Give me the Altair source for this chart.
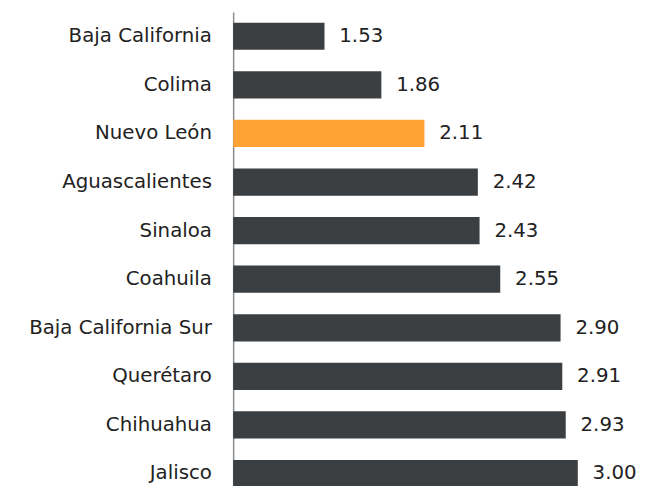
import altair as alt
import pandas as pd

states = ["Baja California", "Colima", "Nuevo León", "Aguascalientes", "Sinaloa",
          "Coahuila", "Baja California Sur", "Querétaro", "Chihuahua", "Jalisco"]
values = [1.53, 1.86, 2.11, 2.42, 2.43, 2.55, 2.90, 2.91, 2.93, 3.00]
highlight = "Nuevo León"

df = pd.DataFrame({"state": states, "value": values})
df["color"] = ["#FFA334" if s == highlight else "#3C3F42" for s in states]
df["label"] = [f"{v:.2f}" for v in values]

FONT = "DejaVu Sans"
FS = 20
W, H = 413, 477

y = alt.Y("state:N", sort=states,
          scale=alt.Scale(range=[0, 492], paddingInner=0.44, paddingOuter=0.22),
          axis=alt.Axis(title=None, ticks=False, labelPadding=22, labelFontSize=FS,
                        labelFont=FONT, labelColor="#222222", labelLimit=400,
                        domainColor="#8C8C8C", domainWidth=1.5, grid=False))
x = alt.X("value:Q", scale=alt.Scale(domain=[1, 1 + W / 174.5], nice=False, zero=False),
          axis=None)

bars = alt.Chart(df).mark_bar().encode(
    x=x, x2=alt.datum(1), y=y, color=alt.Color("color:N", scale=None)
)
text = alt.Chart(df).mark_text(align="left", baseline="middle", dx=15, fontSize=FS,
                               font=FONT, color="#222222").encode(
    x=x, y=alt.Y("state:N", sort=states), text="label:N"
)

chart = alt.layer(bars, text).properties(
    width=W, height=H,
    autosize=alt.AutoSizeParams(type="none"),
    padding={"left": 228, "top": 1, "right": 0, "bottom": 0},
).configure_view(stroke=None)

chart.save("out.html", embed_options={"renderer": "svg", "actions": False})
